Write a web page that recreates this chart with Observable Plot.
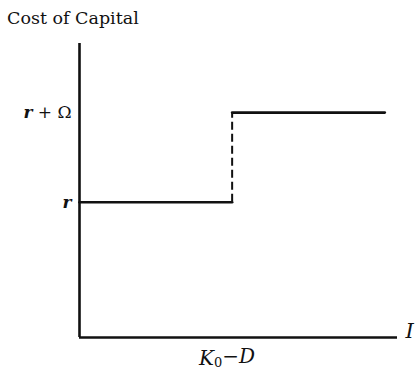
<!DOCTYPE html>
<html>
<head>
<meta charset="utf-8">
<script src="https://cdn.jsdelivr.net/npm/d3@7"></script>
<script src="https://cdn.jsdelivr.net/npm/@observablehq/plot@0.6"></script>
<style>
  body { margin: 0; background: #fff; }
  #title { font-family: "DejaVu Serif", serif; font-size: 17.5px; height: 36px; line-height: 36px; padding-left: 7px; color: #111; }
</style>
</head>
<body>
<div id="title">Cost of Capital</div>
<div id="chart"></div>
<script>
// Data
const yTickValues = [46, 76.5];           // r, r + Ω
const yTickLabels = ["r", "r + Ω"];
const xTickValues = [48];                  // K0 − D
const xTickLabels = ["K0−D"];
const lowerSegment = [{I: 0, cost: 46}, {I: 48, cost: 46}];
const upperSegment = [{I: 48, cost: 76.5}, {I: 96, cost: 76.5}];
const jump = [{I: 48, from: 46, to: 76.5}];
const xDomain = [0, 100];
const yDomain = [0, 100];

const plot = Plot.plot({
  width: 416,
  height: 333,
  marginTop: 7,
  marginBottom: 32,
  marginLeft: 79,
  marginRight: 19,
  style: {fontFamily: "DejaVu Serif, serif", fontSize: "17px", color: "#111", background: "#fff"},
  x: {domain: xDomain},
  y: {domain: yDomain},
  marks: [
    Plot.axisY({ticks: yTickValues, tickFormat: (d) => yTickLabels[yTickValues.indexOf(d)], tickSize: 0, tickPadding: 8, label: null}),
    Plot.axisX({ticks: xTickValues, tickFormat: (d) => xTickLabels[xTickValues.indexOf(d)], tickSize: 0, tickPadding: 13, label: null, dx: -5, fontSize: 20}),
    Plot.ruleX([0], {stroke: "#111", strokeWidth: 2.6}),
    Plot.ruleY([0], {stroke: "#111", strokeWidth: 2.6}),
    Plot.line(lowerSegment, {x: "I", y: "cost", stroke: "#111", strokeWidth: 2.6}),
    Plot.line(upperSegment, {x: "I", y: "cost", stroke: "#111", strokeWidth: 2.6}),
    Plot.ruleX(jump, {x: "I", y1: "from", y2: "to", stroke: "#111", strokeWidth: 2, strokeDasharray: "8,4"}),
    Plot.text(["I"], {frameAnchor: "bottom-right", textAnchor: "start", dx: 8, fontStyle: "italic", fontSize: 21})
  ]
});
document.getElementById("chart").appendChild(plot);

// Style the math labels: italic variables, upright operators, subscript zero
const svg = d3.select(plot);
svg.selectAll("[aria-label='y-axis tick label'] text").each(function() {
  const t = d3.select(this);
  const s = t.text();
  t.text(null);
  t.append("tspan").attr("font-style", "italic").attr("font-weight", "bold").text("r");
  if (s.length > 1) t.append("tspan").text(s.slice(1));
});
svg.selectAll("[aria-label='x-axis tick label'] text").each(function() {
  const t = d3.select(this);
  t.text(null);
  t.append("tspan").attr("font-style", "italic").text("K");
  t.append("tspan").attr("font-size", "13px").attr("dy", "0.2em").text("0");
  t.append("tspan").attr("dy", "-0.2em").text("−");
  t.append("tspan").attr("font-style", "italic").text("D");
});
</script>
</body>
</html>
